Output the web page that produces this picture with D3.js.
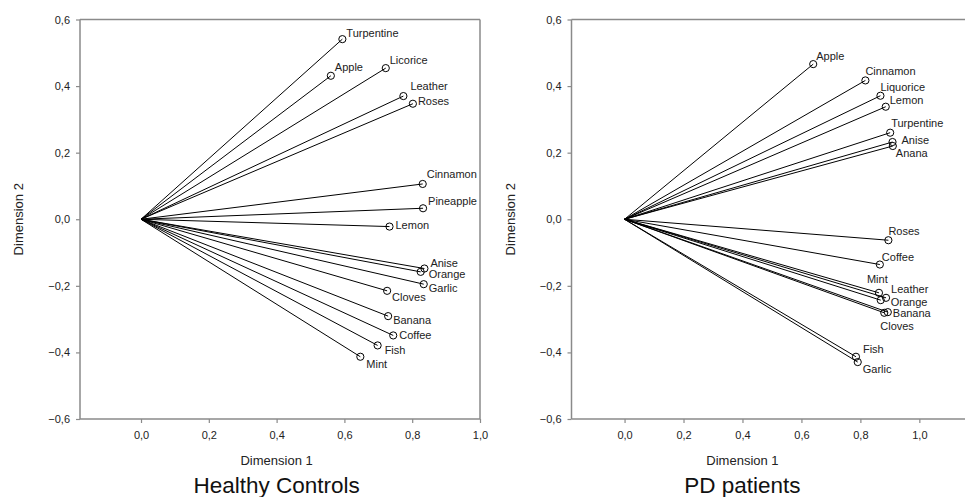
<!DOCTYPE html>
<html>
<head>
<meta charset="utf-8">
<script src="https://cdn.jsdelivr.net/npm/d3@7"></script>
<style>
  body { margin: 0; background: #fff; }
  svg { font-family: "Liberation Sans", Arial, sans-serif; }
</style>
</head>
<body>
<div id="chart-area"></div>
<script>
// Healthy controls
const hcNames = ["Turpentine", "Apple", "Licorice", "Leather", "Roses", "Cinnamon", "Pineapple", "Lemon",
  "Anise", "Orange", "Garlic", "Cloves", "Banana", "Coffee", "Fish", "Mint"]
const hcDim1 = [0.594, 0.560, 0.722, 0.774, 0.802, 0.831, 0.832, 0.733,
  0.836, 0.825, 0.834, 0.726, 0.729, 0.744, 0.698, 0.647]
const hcDim2 = [0.541, 0.431, 0.454, 0.370, 0.347, 0.106, 0.033, -0.022,
  -0.148, -0.158, -0.195, -0.215, -0.291, -0.349, -0.379, -0.413]

// PD patients
const pdNames = ["Apple", "Cinnamon", "Liquorice", "Lemon", "Turpentine", "Anise", "Anana", "Roses",
  "Coffee", "Mint", "Leather", "Orange", "Banana", "Cloves", "Fish", "Garlic"]
const pdDim1 = [0.640, 0.817, 0.868, 0.886, 0.901, 0.909, 0.910, 0.895,
  0.866, 0.863, 0.887, 0.869, 0.893, 0.881, 0.785, 0.791]
const pdDim2 = [0.466, 0.417, 0.371, 0.338, 0.260, 0.232, 0.220, -0.063,
  -0.136, -0.221, -0.236, -0.243, -0.279, -0.281, -0.413, -0.429]

const xTickValues = [0, 0.2, 0.4, 0.6, 0.8, 1.0]
const yTickValues = [-0.6, -0.4, -0.2, 0, 0.2, 0.4, 0.6]

// label placement (px offsets from the point)
const hcLabelOffsets = {
  Turpentine: [4, -2], Apple: [4, -5], Licorice: [4, -4], Leather: [7, -6], Roses: [5, 1],
  Cinnamon: [4, -6], Pineapple: [5, -3], Lemon: [6, 2], Anise: [6, -2], Orange: [8, 6],
  Garlic: [5, 7.5], Cloves: [5, 10], Banana: [5, 8], Coffee: [6, 4], Fish: [7, 9], Mint: [6, 11]
}
const pdLabelOffsets = {
  Apple: [3, -4], Cinnamon: [0, -5], Liquorice: [0, -5], Lemon: [4, -3], Turpentine: [1, -6],
  Anise: [9, 1.5], Anana: [3, 11], Roses: [0, -5], Coffee: [2, -4], Mint: [-12, -10],
  Leather: [5, -5], Orange: [10, 6], Banana: [5, 5], Cloves: [-4, 17], Fish: [7, -4], Garlic: [5, 11]
}

const WIDTH = 965
const HEIGHT = 497
const TOP = 19.5
const BOTTOM = 419

const locale = d3.formatLocale({ decimal: ",", thousands: ".", grouping: [3], currency: ["", ""] })
const fmt = locale.format(".1f")

const svg = d3.select("#chart-area").append("svg")
  .attr("width", WIDTH)
  .attr("height", HEIGHT)

const panels = [
  { names: hcNames, d1: hcDim1, d2: hcDim2, offsets: hcLabelOffsets, title: "Healthy Controls",
    left: 80, right: 480, xDomain: [-0.18, 1.0], box: true },
  { names: pdNames, d1: pdDim1, d2: pdDim2, offsets: pdLabelOffsets, title: "PD patients",
    left: 571.5, right: 978.3, xDomain: [-0.18, 1.2], box: false }
]

panels.forEach(p => {
  const g = svg.append("g")

  const x = d3.scaleLinear().domain(p.xDomain).range([p.left, p.right])
  const y = d3.scaleLinear().domain([-0.6, 0.6]).range([BOTTOM, TOP])

  // frame
  const frame = g.append("g")
    .attr("stroke", "#8a8a8a")
    .attr("stroke-width", 1.5)
    .attr("fill", "none")
  frame.append("line").attr("x1", p.left).attr("x2", p.right).attr("y1", TOP).attr("y2", TOP)
  frame.append("line").attr("x1", p.left).attr("x2", p.right).attr("y1", BOTTOM).attr("y2", BOTTOM)
  frame.append("line").attr("x1", p.left).attr("x2", p.left).attr("y1", TOP).attr("y2", BOTTOM)
  if (p.box) {
    frame.append("line").attr("x1", p.right).attr("x2", p.right).attr("y1", TOP).attr("y2", BOTTOM)
  }

  // axes
  const xAxis = g.append("g")
    .attr("transform", `translate(0, ${BOTTOM})`)
    .call(d3.axisBottom(x).tickValues(xTickValues).tickSize(4).tickPadding(8).tickFormat(fmt))
  const yAxis = g.append("g")
    .attr("transform", `translate(${p.left}, 0)`)
    .call(d3.axisLeft(y).tickValues(yTickValues).tickSize(4).tickPadding(6).tickFormat(fmt))
  ;[xAxis, yAxis].forEach(a => {
    a.select(".domain").remove()
    a.selectAll(".tick line").attr("stroke", "#8a8a8a").attr("stroke-width", 1.2)
    a.selectAll(".tick text")
      .attr("fill", "#222")
      .style("font-size", "11px")
      .style("font-family", "Liberation Sans, Arial, sans-serif")
  })

  // axis labels
  g.append("text")
    .attr("x", x(0.4))
    .attr("y", 465)
    .attr("text-anchor", "middle")
    .attr("font-size", "13px")
    .attr("fill", "#222")
    .text("Dimension 1")

  g.append("text")
    .attr("transform", `translate(${p.left - 57}, ${y(0)}) rotate(-90)`)
    .attr("text-anchor", "middle")
    .attr("font-size", "13px")
    .attr("fill", "#222")
    .text("Dimension 2")

  // panel title
  g.append("text")
    .attr("x", x(0.4))
    .attr("y", 493)
    .attr("text-anchor", "middle")
    .attr("font-size", "22.5px")
    .attr("fill", "#111")
    .text(p.title)

  const data = p.names.map((n, i) => ({ name: n, d1: p.d1[i], d2: p.d2[i] }))

  // vectors from origin
  g.append("g").selectAll("line")
    .data(data)
    .enter().append("line")
    .attr("x1", x(0))
    .attr("y1", y(0))
    .attr("x2", d => x(d.d1))
    .attr("y2", d => y(d.d2))
    .attr("stroke", "#000")
    .attr("stroke-width", 1)

  g.append("g").selectAll("circle")
    .data(data)
    .enter().append("circle")
    .attr("cx", d => x(d.d1))
    .attr("cy", d => y(d.d2))
    .attr("r", 3.6)
    .attr("fill", "none")
    .attr("stroke", "#000")
    .attr("stroke-width", 1)

  g.append("g").selectAll("text")
    .data(data)
    .enter().append("text")
    .attr("x", d => x(d.d1) + p.offsets[d.name][0])
    .attr("y", d => y(d.d2) + p.offsets[d.name][1])
    .attr("font-size", "11px")
    .attr("fill", "#222")
    .text(d => d.name)
})
</script>
</body>
</html>
